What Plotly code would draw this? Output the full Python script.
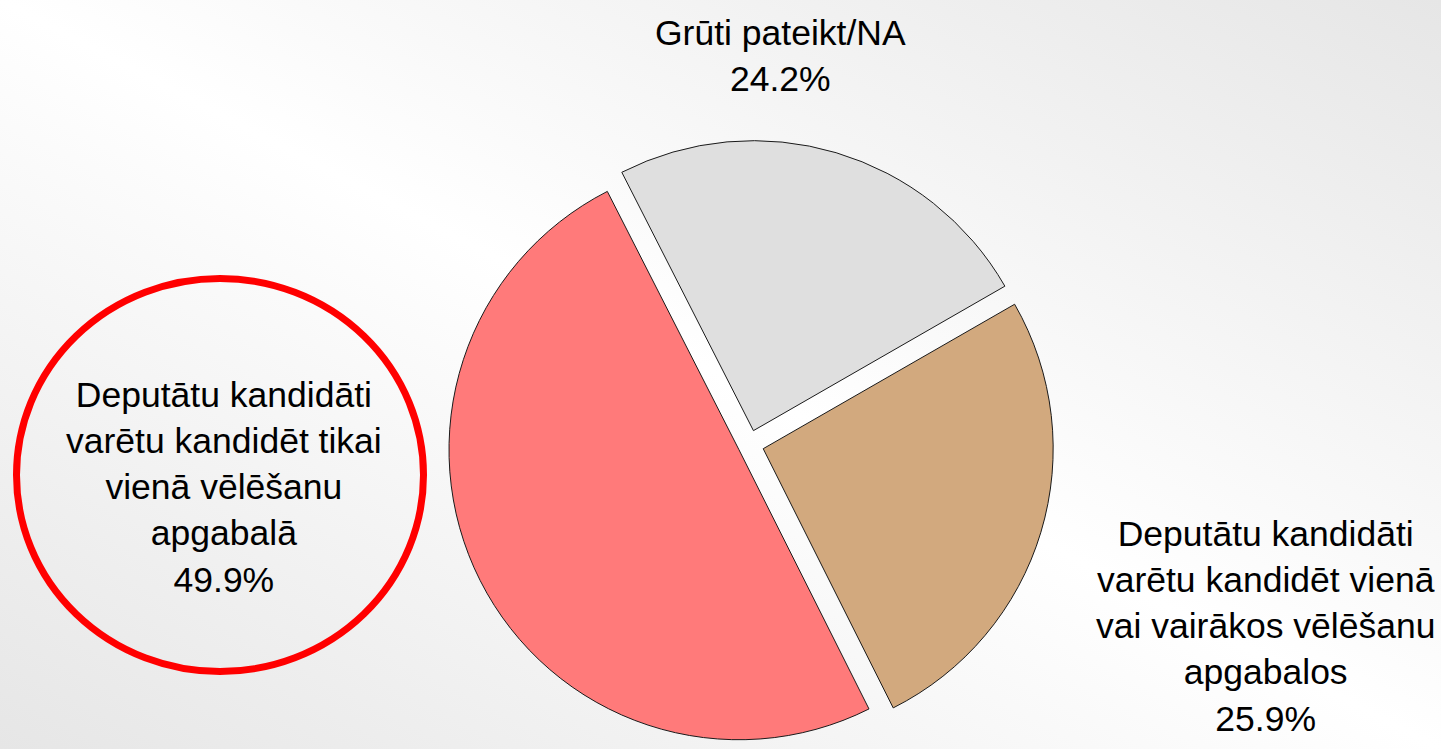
import base64
import plotly.graph_objects as go

# ---- data ----
labels = [
    "Grūti pateikt/NA",
    "Deputātu kandidāti varētu kandidēt vienā vai vairākos vēlēšanu apgabalos",
    "Deputātu kandidāti varētu kandidēt tikai vienā vēlēšanu apgabalā",
]
label_wrapped = [
    "Grūti pateikt/NA",
    "Deputātu kandidāti<br>varētu kandidēt vienā<br>vai vairākos vēlēšanu<br>apgabalos",
    "Deputātu kandidāti<br>varētu kandidēt tikai<br>vienā vēlēšanu<br>apgabalā",
]
values = [24.2, 25.9, 49.9]

# ---- styles ----
colors = ["#dfdfdf", "#d2a97e", "#ff7a7a"]
pulls = [0.05, 0.05, 0.04]
label_pos = [(0.5413, 0.9252), (0.8785, 0.1642), (0.1554, 0.3485)]
FONT = "Liberation Sans, Arial, sans-serif"

W, H = 1441, 749

fig = go.Figure()
fig.add_trace(go.Pie(
    labels=labels,
    values=values,
    sort=False,
    direction="clockwise",
    rotation=-27,
    pull=pulls,
    marker=dict(colors=colors, line=dict(color="#1a1a1a", width=1)),
    textinfo="none",
    hoverinfo="label+percent",
    showlegend=False,
    domain=dict(x=[0.27, 0.77], y=[0.0, 0.813]),
))

annotations = []
for lab, val, (ax, ay) in zip(label_wrapped, values, label_pos):
    annotations.append(dict(
        text=f"{lab}<br>{val:.1f}%",
        x=ax, y=ay, xref="paper", yref="paper",
        xanchor="center", yanchor="middle",
        showarrow=False, align="center",
        font=dict(family=FONT, size=35.5, color="#000000"),
    ))

# background gradient (white diagonal band, light grey corners)
svg = (
    f"<svg xmlns='http://www.w3.org/2000/svg' width='{W}' height='{H}' "
    f"viewBox='0 0 {W} {H}' preserveAspectRatio='none'>"
    "<defs><linearGradient id='g' gradientUnits='userSpaceOnUse' "
    "x1='1027' y1='-215' x2='414' y2='964'>"
    "<stop offset='0' stop-color='#e6e6e6'/>"
    "<stop offset='0.5' stop-color='#ffffff'/>"
    "<stop offset='1' stop-color='#e6e6e6'/>"
    "</linearGradient></defs>"
    f"<rect width='{W}' height='{H}' fill='url(#g)'/></svg>"
)
bg_src = "data:image/svg+xml;base64," + base64.b64encode(svg.encode()).decode()

fig.update_layout(
    width=W, height=H,
    margin=dict(l=0, r=0, t=0, b=0),
    paper_bgcolor="#ffffff",
    plot_bgcolor="rgba(0,0,0,0)",
    annotations=annotations,
    images=[dict(
        source=bg_src, xref="paper", yref="paper", x=0, y=1,
        sizex=1, sizey=1, xanchor="left", yanchor="top",
        sizing="stretch", layer="below",
    )],
    shapes=[dict(
        type="circle", xref="paper", yref="paper",
        x0=16.5 / W, x1=423.5 / W, y0=1 - 671.5 / H, y1=1 - 278.5 / H,
        line=dict(color="#ff0000", width=7),
        fillcolor="rgba(0,0,0,0)",
    )],
)

fig.write_html(
    "out.html",
    config={"displayModeBar": False},
    post_script="document.body.style.margin='0';document.body.style.overflow='hidden';",
)
